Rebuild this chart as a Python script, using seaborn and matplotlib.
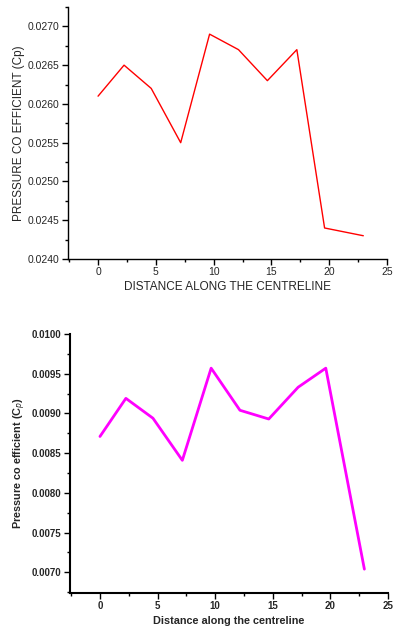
import matplotlib
matplotlib.use("Agg")
import matplotlib.pyplot as plt
import seaborn as sns
import pandas as pd
from matplotlib.ticker import MultipleLocator, FormatStrFormatter

# Data
distance = [0, 2.25, 4.6, 7.15, 9.65, 12.15, 14.65, 17.2, 19.6, 22.95]
cp_top = [0.0261, 0.0265, 0.0262, 0.0255, 0.0269, 0.0267, 0.0263, 0.0267, 0.0244, 0.0243]
cp_bottom = [0.00871, 0.00919, 0.00894, 0.00841, 0.00957, 0.00904, 0.00893, 0.00933, 0.00957, 0.00704]
top_yticks = [0.0240, 0.0245, 0.0250, 0.0255, 0.0260, 0.0265, 0.0270]
bottom_yticks = [0.0070, 0.0075, 0.0080, 0.0085, 0.0090, 0.0095, 0.0100]
xticks = [0, 5, 10, 15, 20, 25]

sns.set_style("ticks")
plt.rcParams['font.family'] = ['Liberation Sans', 'DejaVu Sans']

fig = plt.figure(figsize=(3.98, 6.31), dpi=100)
ax1 = fig.add_axes([68/398, 1-259/631, (387-68)/398, (259-7)/631])
ax2 = fig.add_axes([70/398, 1-593/631, (388-70)/398, (593-334)/631])

df_top = pd.DataFrame({"x": distance, "y": cp_top})
df_bot = pd.DataFrame({"x": distance, "y": cp_bottom})

sns.lineplot(data=df_top, x="x", y="y", ax=ax1, color="#ff0000", linewidth=1.0)
sns.lineplot(data=df_bot, x="x", y="y", ax=ax2, color="#ff00ff", linewidth=2.0)

for ax in (ax1, ax2):
    sns.despine(ax=ax)
    ax.set_xlim(-2.6, 25)
    ax.set_xticks(xticks)
    ax.xaxis.set_minor_locator(MultipleLocator(2.5))
    ax.tick_params(which="major", direction="out", length=4, width=1, color="black")
    ax.tick_params(which="minor", direction="out", length=2, width=1, color="black")
    ax.spines["left"].set_color("black")
    ax.spines["bottom"].set_color("black")

# Top chart
ax1.set_ylim(0.0240, 0.02725)
ax1.set_yticks(top_yticks)
ax1.yaxis.set_minor_locator(MultipleLocator(0.00025))
ax1.yaxis.set_major_formatter(FormatStrFormatter("%.4f"))
ax1.tick_params(labelsize=7.5, pad=2)
ax1.spines["left"].set_linewidth(1.0)
ax1.spines["bottom"].set_linewidth(1.0)
ax1.set_xlabel("DISTANCE ALONG THE CENTRELINE", fontsize=8.5, labelpad=3)
ax1.set_ylabel("PRESSURE CO EFFICIENT (Cp)", fontsize=8.5, labelpad=2)

# Bottom chart
ax2.set_ylim(0.00674, 0.0100)
ax2.set_yticks(bottom_yticks)
ax2.yaxis.set_minor_locator(MultipleLocator(0.00025))
ax2.yaxis.set_major_formatter(FormatStrFormatter("%.4f"))
ax2.tick_params(labelsize=7, pad=2)
for lbl in ax2.get_xticklabels() + ax2.get_yticklabels():
    lbl.set_fontweight("bold")
ax2.spines["left"].set_linewidth(1.5)
ax2.spines["bottom"].set_linewidth(1.5)
ax2.set_xlabel("Distance along the centreline", fontsize=7.8, fontweight="bold", labelpad=3)
ax2.set_ylabel("Pressure co efficient (C$_p$)", fontsize=7.8, fontweight="bold", labelpad=3)

fig.savefig("out.png", dpi=100)
